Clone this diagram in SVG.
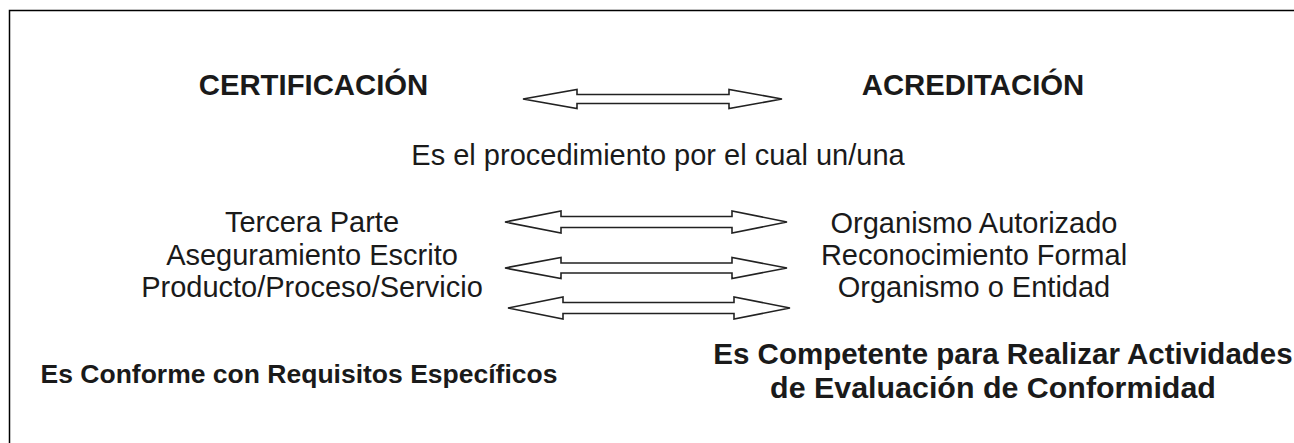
<svg xmlns="http://www.w3.org/2000/svg" width="1294" height="443" viewBox="0 0 1294 443">
<style>
.t{font-family:"Liberation Sans",Arial,sans-serif;fill:#1a1a1a;text-anchor:middle}
.r{font-size:29px}
.b{font-weight:bold}
.h{font-size:29.3px}
.arr{fill:#fff;stroke:#222;stroke-width:1.6;stroke-linejoin:miter}
</style>
<rect width="1294" height="443" fill="#fff"/>
<path d="M9.5 443 V10.5 H1294" fill="none" stroke="#000" stroke-width="1.5"/>
<g id="certificacion"><text class="t b h" x="313.5" y="95">CERTIFICACIÓN</text></g>
<g id="acreditacion"><text class="t b h" x="973" y="95">ACREDITACIÓN</text></g>
<g id="procedimiento"><text class="t r" x="658" y="165">Es el procedimiento por el cual un/una</text></g>
<g id="left-list">
<text class="t r" x="312" y="232">Tercera Parte</text>
<text class="t r" x="312" y="265">Aseguramiento Escrito</text>
<text class="t r" x="312" y="297">Producto/Proceso/Servicio</text>
</g>
<g id="right-list">
<text class="t r" x="974" y="233">Organismo Autorizado</text>
<text class="t r" x="974" y="265">Reconocimiento Formal</text>
<text class="t r" x="974" y="297">Organismo o Entidad</text>
</g>
<g id="left-bottom"><text class="t b" x="299" y="383" font-size="26.5">Es Conforme con Requisitos Específicos</text></g>
<g id="right-bottom">
<text class="t b" x="1003" y="364" font-size="29.5">Es Competente para Realizar Actividades</text>
<text class="t b" x="993" y="398" font-size="30.4">de Evaluación de Conformidad</text>
</g>
<g id="connectors">
<polygon class="arr" points="523,99 577,89.5 577,94.5 729,94.5 729,89.5 782,99 729,108.5 729,103.5 577,103.5 577,108.5"/>
<polygon class="arr" points="505,222 561,211 561,216.5 732,216.5 732,211 787,222 732,233 732,227.5 561,227.5 561,233"/>
<polygon class="arr" points="505,268 561,257.5 561,263 732,263 732,257.5 787,268 732,278.5 732,273 561,273 561,278.5"/>
<polygon class="arr" points="508,308 563,297 563,302.5 734,302.5 734,297 790,308 734,319 734,313.5 563,313.5 563,319"/>
</g>
</svg>
